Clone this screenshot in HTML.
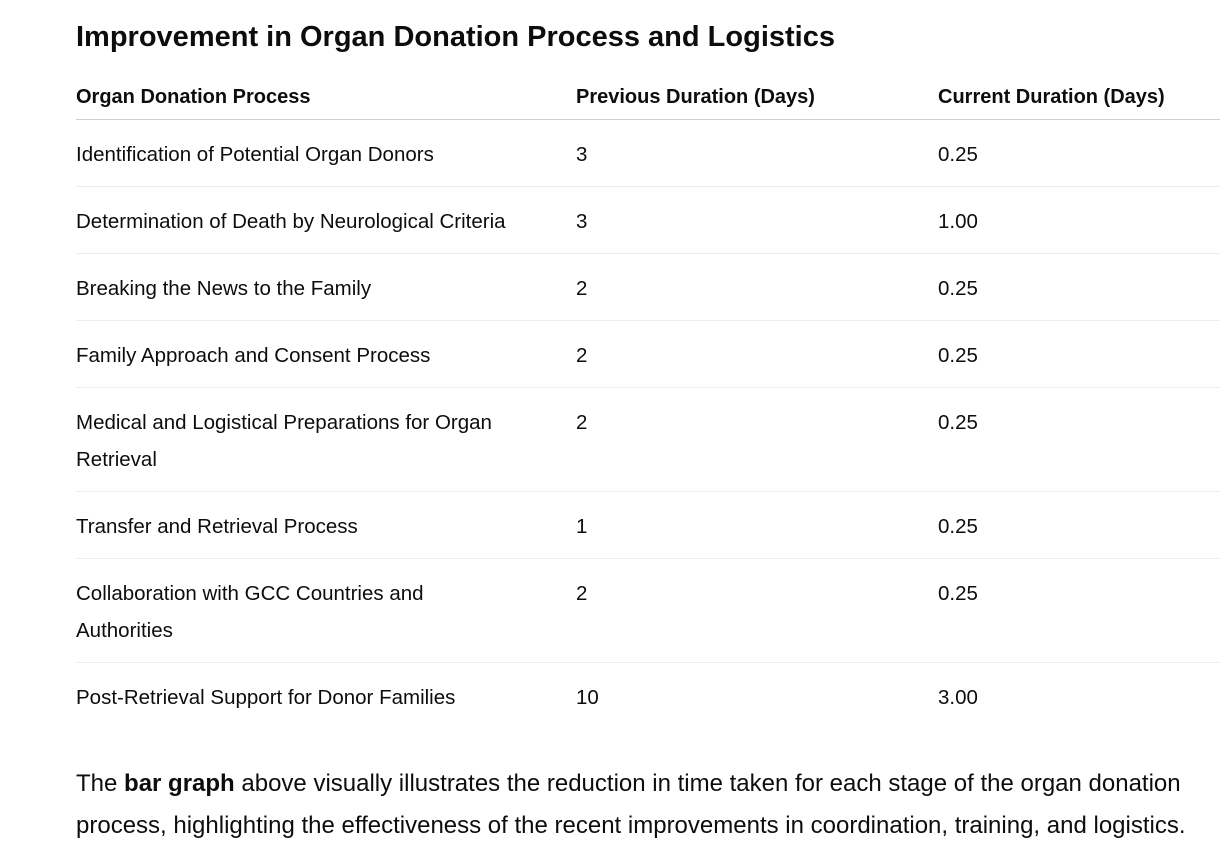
<!DOCTYPE html>
<html><head><meta charset="utf-8"><style>
body{margin:0;background:#fff;width:1220px;height:859px;overflow:hidden;font-family:"Liberation Sans",sans-serif;color:#0d0d0d;}
h1{position:absolute;left:76px;top:18px;margin:0;font-size:29px;font-weight:bold;line-height:38px;}
table{position:absolute;left:76px;top:78px;width:1144px;border-collapse:collapse;font-size:20.5px;}
th{text-align:left;font-weight:bold;font-size:20px;height:41px;padding:0;vertical-align:top;line-height:38px;border-bottom:1px solid #d0d0d0;}
td{padding:16px 0 13px 0;line-height:37px;vertical-align:top;border-bottom:1px solid #ececec;}
tr:last-child td{border-bottom:none;}
.c1{width:500px}.c2{width:362px}
p{position:absolute;left:76px;top:763px;margin:0;font-size:24px;line-height:42px;width:1140px;}
</style></head><body>
<h1>Improvement in Organ Donation Process and Logistics</h1>
<table>
<tr><th class="c1">Organ Donation Process</th><th class="c2">Previous Duration (Days)</th><th>Current Duration (Days)</th></tr>
<tr><td>Identification of Potential Organ Donors</td><td>3</td><td>0.25</td></tr>
<tr><td>Determination of Death by Neurological Criteria</td><td>3</td><td>1.00</td></tr>
<tr><td>Breaking the News to the Family</td><td>2</td><td>0.25</td></tr>
<tr><td>Family Approach and Consent Process</td><td>2</td><td>0.25</td></tr>
<tr><td>Medical and Logistical Preparations for Organ<br>Retrieval</td><td>2</td><td>0.25</td></tr>
<tr><td>Transfer and Retrieval Process</td><td>1</td><td>0.25</td></tr>
<tr><td>Collaboration with GCC Countries and<br>Authorities</td><td>2</td><td>0.25</td></tr>
<tr><td>Post-Retrieval Support for Donor Families</td><td>10</td><td>3.00</td></tr>
</table>
<p>The <b>bar graph</b> above visually illustrates the reduction in time taken for each stage of the organ donation<br>process, highlighting the effectiveness of the recent improvements in coordination, training, and logistics.</p>
</body></html>
